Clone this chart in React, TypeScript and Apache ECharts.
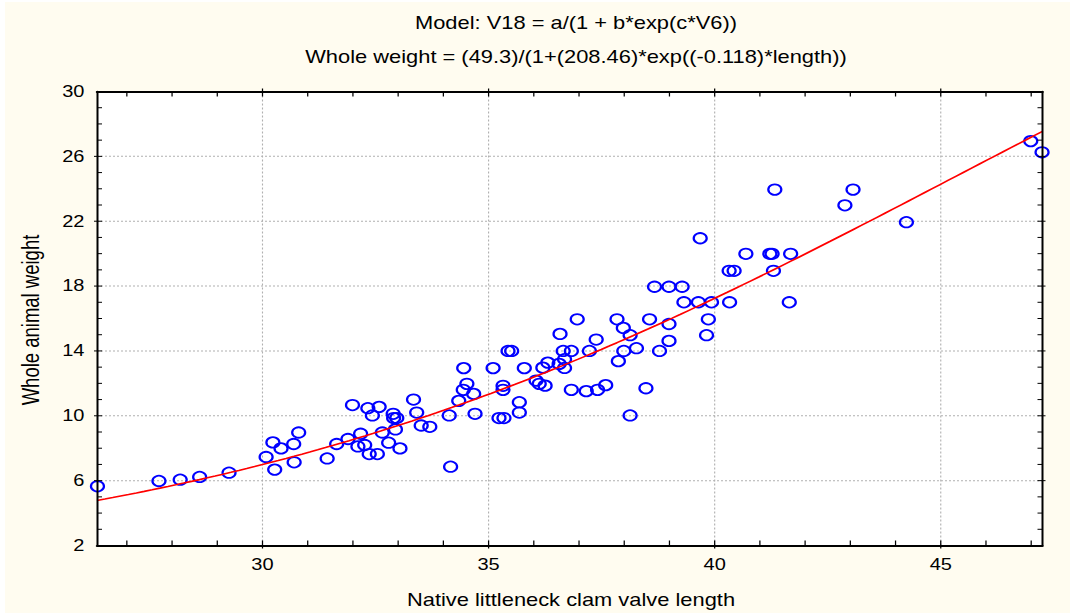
import React, { useEffect, useRef } from "react";
import * as echarts from "echarts";

// ---------------- data ----------------
const valveLength = [
  26.35, 27.71, 28.18, 28.61, 29.26, 30.08, 30.27, 30.23, 30.41, 30.69,
  30.7, 30.8, 31.43, 31.64, 31.89, 31.99, 32.11, 32.17, 32.26, 32.33,
  32.36, 32.43, 32.54, 32.58, 32.65, 32.79, 32.89, 32.9, 32.97, 32.94,
  33.04, 33.34, 33.41, 33.51, 33.7, 34.13, 34.16, 34.34, 34.45, 34.44,
  34.52, 34.67, 34.7, 35.1, 35.23, 35.34, 35.32, 35.32, 35.43, 35.51,
  35.68, 35.68, 35.79, 36.05, 36.12, 36.25, 36.2, 36.31, 36.58, 36.56,
  36.96, 36.65, 36.83, 36.68, 36.68, 36.83, 37.16, 37.41, 37.59, 37.23,
  37.38, 37.84, 37.87, 37.99, 37.98, 38.13, 38.27, 38.13, 38.48, 38.56,
  38.67, 38.78, 38.99, 38.99, 38.99, 39.28, 39.32, 39.64, 39.68, 39.82,
  39.86, 39.93, 40.33, 40.32, 40.43, 40.69, 41.22, 41.27, 41.3, 41.33,
  41.68, 41.65, 42.88, 43.06, 44.24, 46.99, 47.24,
];
const wholeWeight = [
  5.65, 5.98, 6.06, 6.23, 6.49, 7.46, 6.68, 8.36, 7.99, 8.26,
  7.13, 8.97, 7.37, 8.26, 8.57, 10.66, 8.11, 8.89, 8.2, 10.47,
  7.64, 10.02, 7.64, 10.55, 8.97, 8.34, 10.12, 9.86, 9.86, 9.16,
  7.99, 11.0, 10.2, 9.4, 9.32, 10.02, 6.86, 10.92, 12.94, 11.6,
  11.97, 11.35, 10.12, 12.94, 9.86, 9.86, 11.85, 11.6, 14.0, 14.0,
  10.84, 10.2, 12.94, 12.17, 11.97, 11.86, 12.97, 13.28, 15.05, 13.2,
  15.95, 14.0, 14.0, 13.49, 12.95, 11.6, 11.52, 11.6, 11.89, 14.0,
  14.7, 15.95, 13.37, 14.0, 15.42, 14.97, 14.17, 10.02, 11.7, 15.95,
  17.96, 14.0, 17.96, 15.66, 14.62, 17.96, 17.0, 17.0, 20.95, 14.97,
  15.95, 17.0, 17.0, 18.94, 18.94, 19.99, 19.99, 19.99, 18.94, 23.95,
  19.99, 17.0, 22.98, 23.95, 21.94, 26.94, 26.25,
];

const xLabelValues = [30, 35, 40, 45];
const xTickValues = [27, 28, 29, 30, 31, 32, 33, 34, 35, 36, 37, 38, 39, 40, 41, 42, 43, 44, 45, 46, 47];
const yLabelValues = [2, 6, 10, 14, 18, 22, 26, 30];
const yTickValues = [3, 4, 5, 6, 7, 8, 9, 10, 11, 12, 13, 14, 15, 16, 17, 18, 19, 20, 21, 22, 23, 24, 25, 26, 27, 28, 29];

// fitted model shown in the title: a / (1 + b * exp(c * length))
const fitA = 49.3;
const fitB = 208.46;
const fitC = -0.118;

const xMin = 26.34;
const xMax = 47.25;
const yMin = 2;
const yMax = 30;

const titleLine1 = "Model: V18 = a/(1 + b*exp(c*V6))";
const titleLine2 = "Whole weight = (49.3)/(1+(208.46)*exp((-0.118)*length))";
const xName = "Native littleneck clam valve length";
const yName = "Whole animal weight";

// ---------------- layout / style ----------------
const SX = 1.25; // reference picture is stretched horizontally
const PAGE_W = 1070;
const PAGE_H = 613;
const CHART_W = PAGE_W / SX;
const FONT = "'Liberation Sans', Arial, Helvetica, sans-serif";
const CREAM = "#fffcf0";
const PLOT = { left: 97, top: 91.5, right: 1042.5, bottom: 545.5 };
const GRID_COLOR = "#b0b0b0";

function fitCurve(): number[][] {
  const pts: number[][] = [];
  const steps = 120;
  for (let i = 0; i <= steps; i++) {
    const x = xMin + ((xMax - xMin) * i) / steps;
    pts.push([x, fitA / (1 + fitB * Math.exp(fitC * x))]);
  }
  return pts;
}

function line(x1: number, y1: number, x2: number, y2: number, style: any) {
  return { type: "line", silent: true, shape: { x1, y1, x2, y2 }, style };
}

function buildOption(): any {
  const px = (v: number) => v / SX;
  const axisLineX = { show: true, onZero: false, lineStyle: { color: "#000", width: 2 } };
  const axisLineY = { show: true, onZero: false, lineStyle: { color: "#000", width: 1.6 } };
  const baseX = { type: "value", min: xMin, max: xMax, gridIndex: 0, splitLine: { show: false }, axisTick: { show: false } };
  const baseY = { type: "value", min: yMin, max: yMax, gridIndex: 0, splitLine: { show: false }, axisTick: { show: false } };
  const textBase = { fill: "#000", fontFamily: FONT, fontSize: 17.5, align: "center", verticalAlign: "middle", textAlign: "center", textVerticalAlign: "middle" };
  const tickStyle = { stroke: "#000", lineWidth: 1 };

  return {
    animation: false,
    backgroundColor: "transparent",
    textStyle: { fontFamily: FONT },
    graphic: [
      { type: "text", x: px(576), y: 23, silent: true, style: { ...textBase, text: titleLine1 } },
      { type: "text", x: px(576), y: 57, silent: true, style: { ...textBase, text: titleLine2 } },
      { type: "text", x: px(571), y: 600, silent: true, style: { ...textBase, text: xName } },
      { type: "text", x: px(30.5), y: 320, rotation: Math.PI / 2, silent: true, style: { ...textBase, fontSize: 18.5, text: yName } },
    ],
    grid: {
      left: px(PLOT.left),
      right: CHART_W - px(PLOT.right),
      top: PLOT.top,
      bottom: PAGE_H - PLOT.bottom,
      show: false,
      containLabel: false,
    },
    xAxis: [
      {
        ...baseX,
        position: "bottom",
        z: 6,
        axisLine: axisLineX,
        axisLabel: { show: true, customValues: xLabelValues, color: "#000", fontSize: 16, fontFamily: FONT, margin: 11 },
      },
      {
        ...baseX,
        position: "top",
        z: 6,
        axisLine: axisLineX,
        axisLabel: { show: false },
      },
    ],
    yAxis: [
      {
        ...baseY,
        position: "left",
        z: 6,
        axisLine: axisLineY,
        axisLabel: { show: true, customValues: yLabelValues, color: "#000", fontSize: 16, fontFamily: FONT, margin: 10 },
      },
      {
        ...baseY,
        position: "right",
        z: 6,
        axisLine: axisLineY,
        axisLabel: { show: false },
      },
    ],
    series: [
      // dotted vertical grid lines at labelled x values
      {
        type: "custom",
        z: 1,
        silent: true,
        data: xLabelValues.map((v) => [v, yMin]),
        renderItem: (_p: any, api: any) => {
          const v = api.value(0);
          const b = api.coord([v, yMin]);
          const t = api.coord([v, yMax]);
          return line(b[0], b[1], t[0], t[1], { stroke: GRID_COLOR, lineWidth: 0.9, lineDash: [2, 2] });
        },
      },
      // dotted horizontal grid lines at labelled y values
      {
        type: "custom",
        z: 1,
        silent: true,
        data: yLabelValues.map((v) => [xMin, v]),
        renderItem: (_p: any, api: any) => {
          const v = api.value(1);
          const l = api.coord([xMin, v]);
          const r = api.coord([xMax, v]);
          return line(l[0], l[1], r[0], r[1], { stroke: GRID_COLOR, lineWidth: 1, lineDash: [1.6, 1.6] });
        },
      },
      {
        type: "scatter",
        xAxisIndex: 0,
        yAxisIndex: 0,
        z: 4,
        data: valveLength.map((v, i) => [v, wholeWeight[i]]),
        symbol: "circle",
        symbolSize: 10.4,
        clip: true,
        silent: true,
        itemStyle: { color: "rgba(0,0,0,0)", borderColor: "#0000ff", borderWidth: 1.8, opacity: 1 },
        emphasis: { disabled: true },
      },
      {
        type: "line",
        xAxisIndex: 0,
        yAxisIndex: 0,
        z: 5,
        data: fitCurve(),
        showSymbol: false,
        smooth: false,
        clip: true,
        silent: true,
        lineStyle: { color: "#ff0000", width: 1.6 },
        emphasis: { disabled: true },
      },
      // x ticks (bottom and top, pointing inward; labelled ones cross the axis)
      {
        type: "custom",
        z: 7,
        silent: true,
        data: xTickValues.map((v) => [v, yMin]),
        renderItem: (_p: any, api: any) => {
          const v = api.value(0);
          const b = api.coord([v, yMin]);
          const t = api.coord([v, yMax]);
          const out = xLabelValues.includes(v) ? 3 : 0;
          return {
            type: "group",
            children: [
              line(b[0], b[1] + out, b[0], b[1] - 5, tickStyle),
              line(t[0], t[1] - out, t[0], t[1] + 5, tickStyle),
            ],
          };
        },
      },
      // y ticks (left and right, pointing inward; labelled ones cross the axis)
      {
        type: "custom",
        z: 7,
        silent: true,
        data: yTickValues.map((v) => [xMin, v]),
        renderItem: (_p: any, api: any) => {
          const v = api.value(1);
          const l = api.coord([xMin, v]);
          const r = api.coord([xMax, v]);
          const out = yLabelValues.includes(v) ? 2.4 : 0;
          return {
            type: "group",
            children: [
              line(l[0] - out, l[1], l[0] + 4, l[1], tickStyle),
              line(r[0] + out, r[1], r[0] - 4, r[1], tickStyle),
            ],
          };
        },
      },
    ],
  };
}

export default function App() {
  const ref = useRef<HTMLDivElement>(null);
  useEffect(() => {
    document.body.style.margin = "0";
    if (!ref.current) return;
    const chart = echarts.init(ref.current, null, { renderer: "svg" });
    chart.setOption(buildOption());
    return () => chart.dispose();
  }, []);
  return (
    <div style={{ position: "relative", width: PAGE_W, height: PAGE_H, background: "#ffffff", overflow: "hidden" }}>
      <div style={{ position: "absolute", left: 5, top: 2, right: 0, bottom: 0, background: CREAM }} />
      <div
        style={{
          position: "absolute",
          left: PLOT.left,
          top: PLOT.top,
          width: PLOT.right - PLOT.left,
          height: PLOT.bottom - PLOT.top,
          background: "#ffffff",
        }}
      />
      <div
        ref={ref}
        style={{
          position: "absolute",
          left: 0,
          top: 0,
          width: CHART_W,
          height: PAGE_H,
          transform: `scaleX(${SX})`,
          transformOrigin: "0 0",
        }}
      />
    </div>
  );
}
